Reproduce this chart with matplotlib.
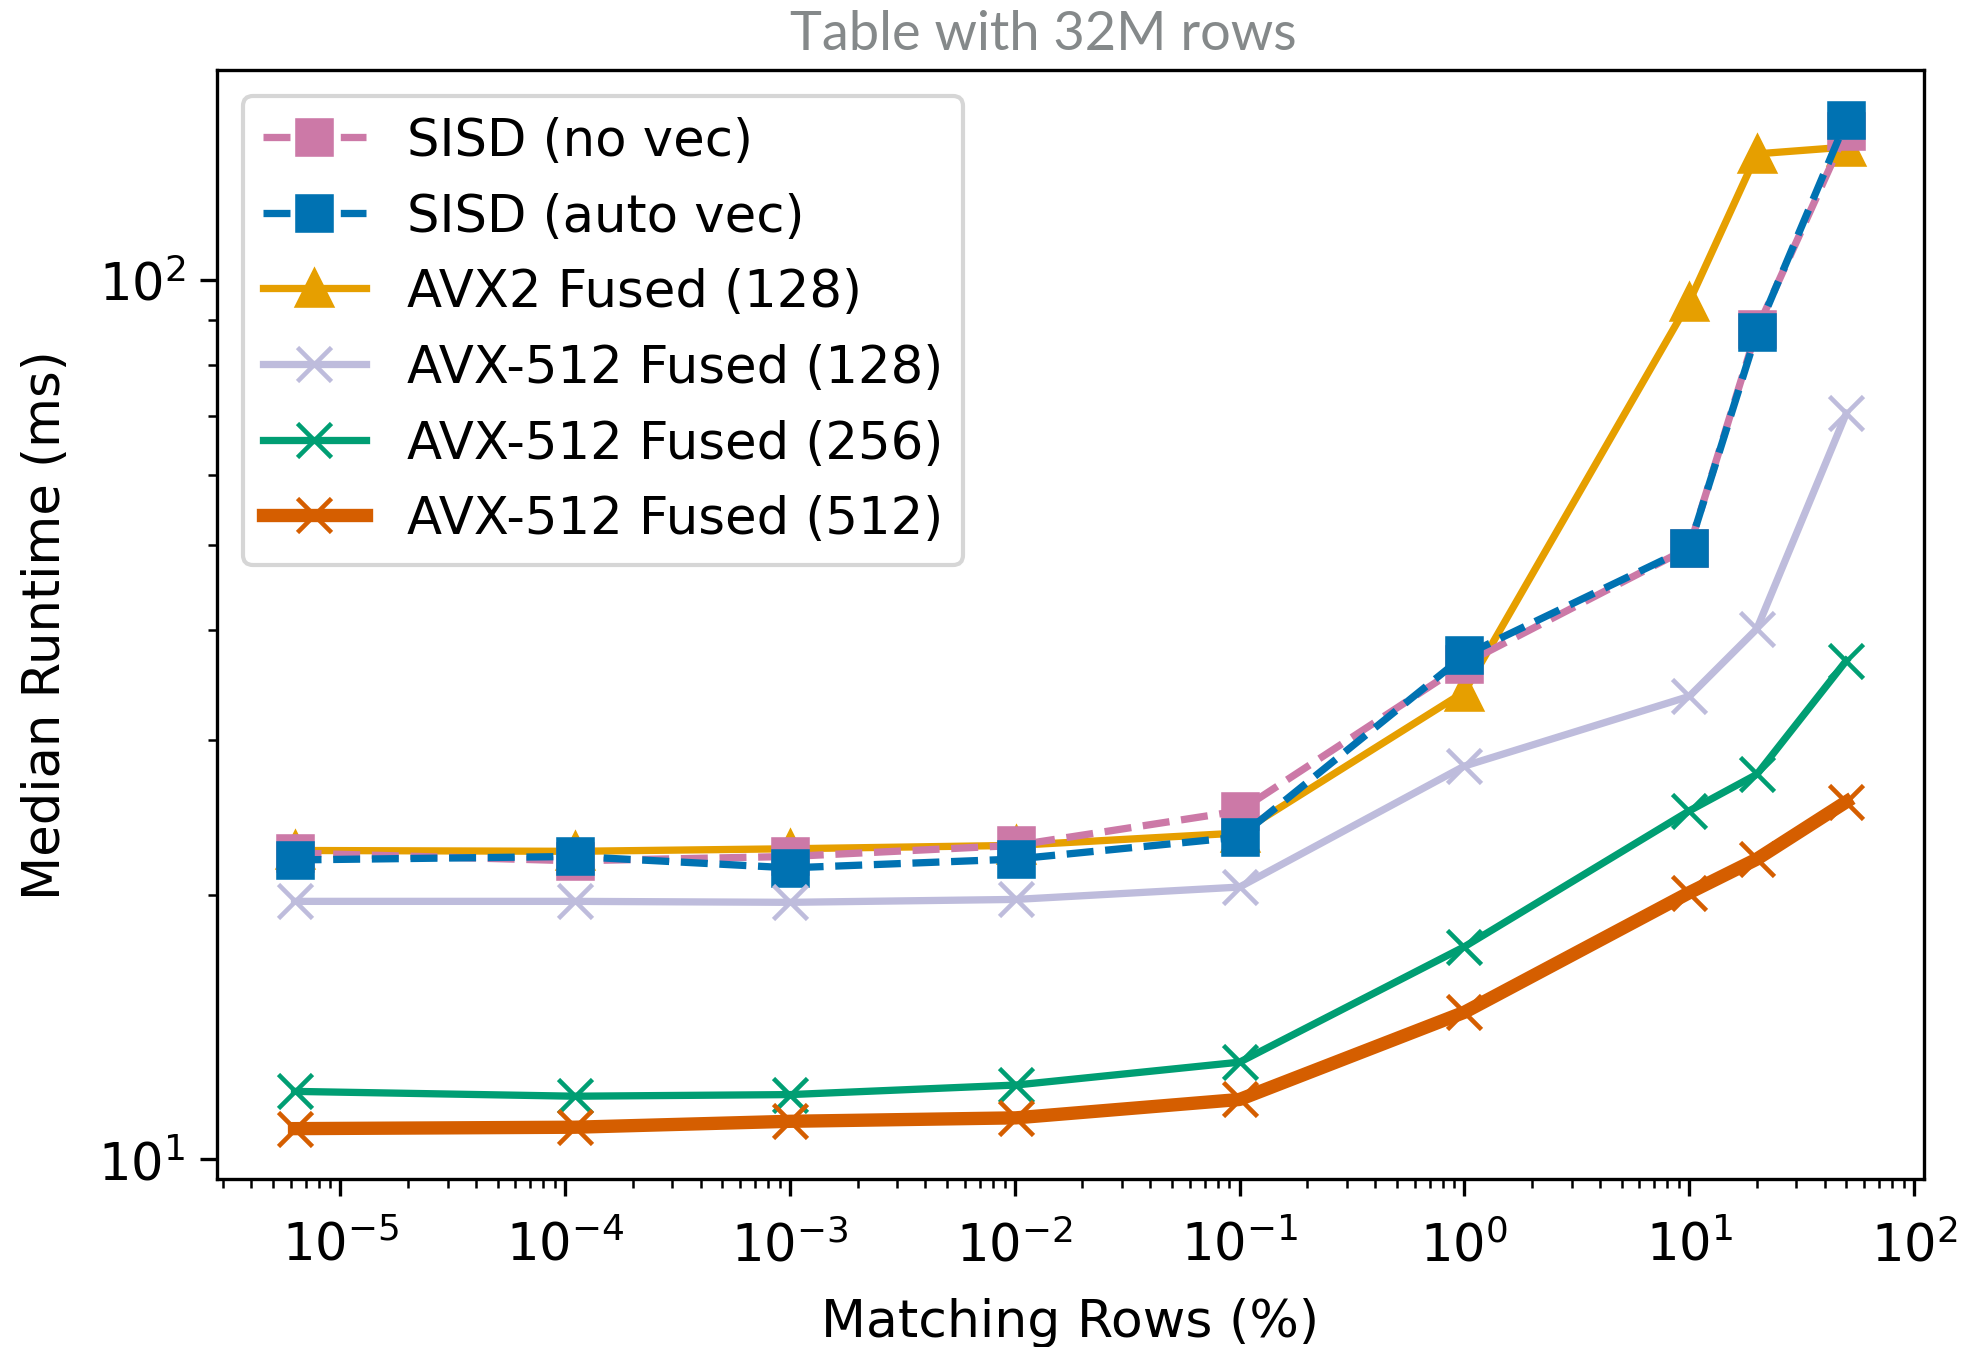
import matplotlib
matplotlib.use("Agg")
import matplotlib.pyplot as plt

# matching rows in percent (32M row table)
matching_pct = [6.25e-6, 1.1e-4, 1e-3, 1.01e-2, 1e-1, 1, 10, 20, 50]

# median runtime in ms
sisd_no_vec = [22.3, 21.85, 22.1, 22.75, 24.9, 36.6, 49.6, 87.8, 147.5]
sisd_auto_vec = [21.9, 22.1, 21.45, 21.95, 23.25, 37.4, 49.6, 87.1, 151.7]
avx2_128 = [22.45, 22.4, 22.55, 22.75, 23.5, 34.0, 94.4, 139.0, 141.5]
avx512_128 = [19.65, 19.65, 19.6, 19.75, 20.4, 28.0, 33.6, 40.1, 70.5]
avx512_256 = [11.95, 11.8, 11.85, 12.15, 12.9, 17.45, 24.9, 27.4, 36.9]
avx512_512 = [10.84, 10.88, 11.05, 11.15, 11.7, 14.7, 20.1, 21.95, 25.5]

series = [
    ("SISD (no vec)", sisd_no_vec, "#cc79a7", "--", "s", 1.75, 2.0),
    ("SISD (auto vec)", sisd_auto_vec, "#0072b2", "--", "s", 1.75, 2.1),
    ("AVX2 Fused (128)", avx2_128, "#e69f00", "-", "^", 1.75, 1.9),
    ("AVX-512 Fused (128)", avx512_128, "#bebcdc", "-", "x", 1.75, 2.2),
    ("AVX-512 Fused (256)", avx512_256, "#009e73", "-", "x", 1.75, 2.3),
    ("AVX-512 Fused (512)", avx512_512, "#d55e00", "-", "x", 3.2, 2.4),
]

plt.rcParams['font.size'] = 12

fig = plt.figure(figsize=(6.55, 4.4933), dpi=300)
ax = fig.add_axes([0.1104, 0.1246, 0.8687, 0.8227])

for label, vals, color, ls, marker, lw, z in series:
    ax.plot(matching_pct, vals, color=color, linestyle=ls, marker=marker,
            linewidth=lw, markersize=8, markeredgewidth=1.1, label=label, zorder=z)

ax.set_xscale('log')
ax.set_yscale('log')
ax.set_xlabel('Matching Rows (%)', fontsize=12.5, labelpad=6)
ax.set_ylabel('Median Runtime (ms)', fontsize=12.3, labelpad=6.5)
ax.tick_params(which='major', length=4, labelsize=12.3)
ax.tick_params(axis='x', which='major', pad=6)
ax.tick_params(which='minor', length=2.2)
ax.set_title('Table with 32M rows', fontsize=13, color='#85898a',
             family=['Lato', 'DejaVu Sans'], pad=5, x=0.484)

ax.legend(loc='upper left', fontsize=12.3)

fig.savefig('out.png', dpi=300)
